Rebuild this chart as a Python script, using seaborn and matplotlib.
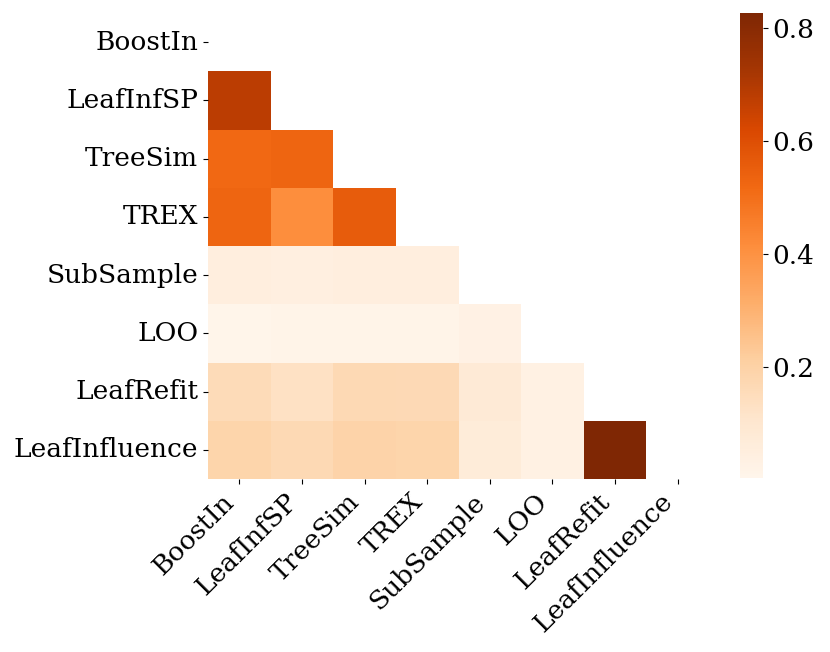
import numpy as np
import pandas as pd
import matplotlib.pyplot as plt
import seaborn as sns

methods = ['BoostIn', 'LeafInfSP', 'TreeSim', 'TREX', 'SubSample', 'LOO',
           'LeafRefit', 'LeafInfluence']

# lower-triangle correlations, row i holds values against the first i methods
lower_rows = [
    [],
    [0.68],
    [0.52, 0.53],
    [0.53, 0.415, 0.56],
    [0.05, 0.045, 0.05, 0.05],
    [0.01, 0.015, 0.015, 0.015, 0.03],
    [0.16, 0.13, 0.17, 0.165, 0.08, 0.035],
    [0.19, 0.17, 0.195, 0.19, 0.07, 0.035, 0.827],
]

n = len(methods)
corr = np.zeros((n, n))
for i, row in enumerate(lower_rows):
    for j, v in enumerate(row):
        corr[i, j] = v
        corr[j, i] = v
corr_df = pd.DataFrame(corr, index=methods, columns=methods)
mask = np.triu(np.ones((n, n), dtype=bool))

plt.rcParams['font.family'] = ['DejaVu Serif']
plt.rcParams['font.size'] = 19

fig = plt.figure(figsize=(8.3, 6.52), dpi=100)
ax = fig.add_axes([208 / 830, 1 - 479 / 652, 501 / 830, 466 / 652])
cax = fig.add_axes([740 / 830, 1 - 478 / 652, 23 / 830, 465 / 652])

sns.heatmap(corr_df, mask=mask, cmap='Oranges', vmin=0.004, vmax=0.827,
            ax=ax, cbar_ax=cax)
ax.set_xticklabels(methods, rotation=45, ha='right')
ax.set_yticklabels(methods, rotation=0)
ax.tick_params(labelsize=19)
cbar = ax.collections[0].colorbar
cbar.set_ticks([0.2, 0.4, 0.6, 0.8])
cbar.ax.tick_params(labelsize=19)
cbar.outline.set_visible(False)

fig.savefig('out.png', dpi=100)
